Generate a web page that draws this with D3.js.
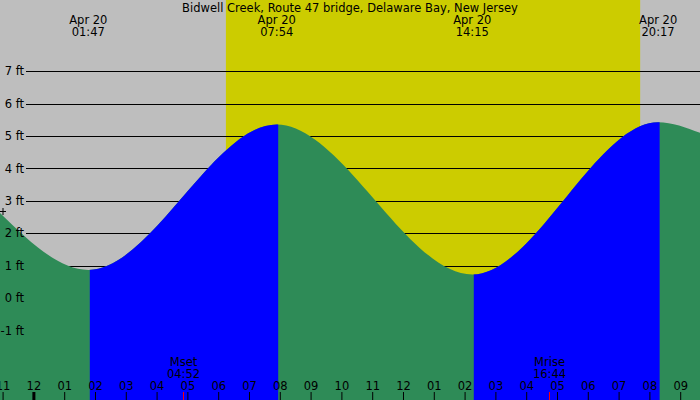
<!DOCTYPE html>
<html>
<head>
<meta charset="utf-8">
<script src="https://cdn.jsdelivr.net/npm/d3@7"></script>
<style>
  body { margin: 0; background: #fff; }
  text { font-family: "DejaVu Sans", sans-serif; font-size: 11.5px; fill: #000; }
</style>
</head>
<body>
<div id="chart"></div>
<script>
// tide station and the day shown
const stationName = 'Bidwell Creek, Route 47 bridge, Delaware Bay, New Jersey';
const dayLabel = 'Apr 20';

// high / low tides of the day (time, feet)
const extremeTimes = ['01:47', '07:54', '14:15', '20:17'];
const extremeFeet = [0.87, 5.36, 0.73, 5.43];
// water level where the curve meets the left and right edges
const edgeHours = [-1.084, 21.643];
const edgeFeet = [2.63, 5.10];
// the "+" marker at the left edge
const markerFeet = 2.7;

// daylight
const sunTimes = ['06:15', '19:42'];

// moon events
const moonNames = ['Mset', 'Mrise'];
const moonTimes = ['04:52', '16:44'];

// axis ticks
const depthTicks = [-1, 0, 1, 2, 3, 4, 5, 6, 7];
const hourTicks = d3.range(-1, 22);

class TideChart {
    constructor(_config) {
        this.config = {
            parentElement: _config.parentElement,
            containerWidth: _config.containerWidth || 700,
            containerHeight: _config.containerHeight || 400
        };
        this.initVis();
    }

    initVis() {
        let vis = this;
        const w = vis.config.containerWidth, h = vis.config.containerHeight;

        vis.svg = d3.select(vis.config.parentElement)
            .append('svg')
            .attr('width', w)
            .attr('height', h);

        // hours after midnight -> px, feet -> px
        vis.xScale = d3.scaleLinear().domain(edgeHours).range([0, w]);
        vis.yScale = d3.scaleLinear().domain([-3.145, 9.2]).range([h, 0]);

        vis.toHours = s => { const p = s.split(':'); return +p[0] + p[1] / 60; };

        vis.renderVis();
    }

    renderVis() {
        let vis = this;
        const w = vis.config.containerWidth, h = vis.config.containerHeight;
        const x = vis.xScale, y = vis.yScale;

        // night background and daylight band
        vis.svg.append('rect')
            .attr('width', w).attr('height', h)
            .attr('fill', '#bebebe');
        vis.svg.append('rect')
            .attr('x', x(vis.toHours(sunTimes[0])))
            .attr('width', x(vis.toHours(sunTimes[1])) - x(vis.toHours(sunTimes[0])))
            .attr('height', h)
            .attr('fill', '#cccc00');

        // gridlines (behind the water)
        vis.svg.selectAll('.grid')
            .data(depthTicks)
            .join('line')
            .attr('class', 'grid')
            .attr('x1', 26).attr('x2', w)
            .attr('y1', d => Math.round(y(d)) + 0.5)
            .attr('y2', d => Math.round(y(d)) + 0.5)
            .attr('stroke', '#000');

        // tide points: edges plus the extremes
        const points = [{t: edgeHours[0], v: edgeFeet[0]}]
            .concat(extremeTimes.map((s, i) => ({t: vis.toHours(s), v: extremeFeet[i]})))
            .concat([{t: edgeHours[1], v: edgeFeet[1]}]);

        const area = d3.area()
            .x(d => x(d.t))
            .y0(h)
            .y1(d => y(d.v))
            .curve(d3.curveMonotoneX);

        // falling tide in green, whole curve
        vis.svg.append('path')
            .datum(points)
            .attr('d', area)
            .attr('fill', '#2e8b57');

        // rising tide (low -> high) in blue, clipped to each rising stretch
        const rising = [[0, 1], [2, 3]];
        rising.forEach((r, i) => {
            const x0 = x(vis.toHours(extremeTimes[r[0]])) + 1.5;
            const x1 = x(vis.toHours(extremeTimes[r[1]])) + 1.5;
            vis.svg.append('clipPath')
                .attr('id', 'rise' + i)
                .append('rect')
                .attr('x', x0).attr('width', x1 - x0)
                .attr('y', 0).attr('height', h);
            vis.svg.append('path')
                .datum(points)
                .attr('d', area)
                .attr('clip-path', `url(#rise${i})`)
                .attr('fill', '#0000ff');
        });

        // depth labels
        vis.svg.selectAll('.depth')
            .data(depthTicks)
            .join('text')
            .attr('class', 'depth')
            .attr('x', 24)
            .attr('y', d => y(d))
            .attr('dy', '0.35em')
            .attr('text-anchor', 'end')
            .text(d => `${d} ft`);

        // marker at the left edge
        const my = Math.round(y(markerFeet)) + 0.5;
        vis.svg.append('path')
            .attr('d', `M0,${my}H6M3,${my - 3.5}V${my + 3.5}`)
            .attr('stroke', '#000');

        // title
        vis.svg.append('text')
            .attr('x', w / 2).attr('y', 12)
            .attr('text-anchor', 'middle')
            .text(stationName);

        // tide extreme labels at the top
        const top = vis.svg.selectAll('.extreme')
            .data(extremeTimes)
            .join('g')
            .attr('class', 'extreme')
            .attr('transform', d => `translate(${x(vis.toHours(d))},0)`);
        top.append('text').attr('y', 24).attr('text-anchor', 'middle').text(dayLabel);
        top.append('text').attr('y', 36).attr('text-anchor', 'middle').text(d => d);

        // hour axis along the bottom
        const hourFormat = d => {
            const hh = ((d % 24) + 24) % 24;
            const h12 = hh % 12 === 0 ? 12 : hh % 12;
            return String(h12).padStart(2, '0');
        };
        vis.xAxis = d3.axisTop(x)
            .tickValues(hourTicks)
            .tickFormat(hourFormat)
            .tickSize(8)
            .tickPadding(2);

        vis.svg.append('g')
            .attr('class', 'axis x-axis')
            .attr('transform', `translate(0,${h})`)
            .call(vis.xAxis)
            .call(g => g.select('.domain').remove())
            .call(g => g.selectAll('.tick line')
                .attr('stroke', '#000')
                .attr('stroke-width', d => d === 0 ? 3 : 1))
            .call(g => g.selectAll('.tick text')
                .attr('fill', '#000')
                .style('font-family', '"DejaVu Sans", sans-serif')
                .style('font-size', '11.5px'));

        // moon events
        const moon = vis.svg.selectAll('.moon')
            .data(moonTimes)
            .join('g')
            .attr('class', 'moon')
            .attr('transform', d => `translate(${Math.round(x(vis.toHours(d))) + 0.5},0)`);
        moon.append('line')
            .attr('y1', h - 8).attr('y2', h)
            .attr('stroke', '#ff0000');
        moon.append('text').attr('y', 366).attr('text-anchor', 'middle').text((d, i) => moonNames[i]);
        moon.append('text').attr('y', 378).attr('text-anchor', 'middle').text(d => d);
    }
}

new TideChart({ parentElement: '#chart' });
</script>
</body>
</html>
